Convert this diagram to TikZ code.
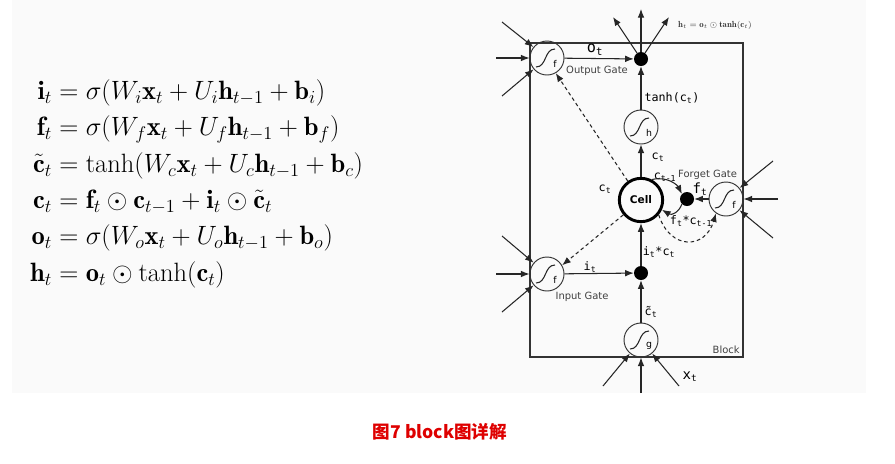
\documentclass[tikz,border=0pt]{standalone}
\usepackage{amsmath}
\usepackage{graphicx}
\usepackage{fontspec}
\setsansfont{DejaVu Sans}
\setmonofont{DejaVu Sans Mono}
\newfontfamily\cjk{Noto Sans CJK SC}
\usepackage{tikz}
\usetikzlibrary{positioning,calc,arrows.meta}
\definecolor{pagegray}{RGB}{250,250,250}
\definecolor{capred}{RGB}{222,0,0}

\begin{document}
\begin{tikzpicture}[
    x=0.03cm, y=-0.03cm,
    gate/.style={circle, draw=black!80, line width=0.8pt, minimum size=1.02cm, inner sep=0pt},
    dot/.style={circle, fill=black, minimum size=0.42cm, inner sep=0pt},
    cellnode/.style={circle, draw, line width=2.5pt, minimum size=1.3cm, inner sep=0pt, font=\sffamily\bfseries\fontsize{9}{10}\selectfont},
    arrow/.style={-{Latex[length=2.6mm,width=2mm]}, line width=0.9pt, draw=black!85},
    peep/.style={arrow, dash pattern=on 3pt off 2.5pt},
    lbl/.style={font=\ttfamily\fontsize{10}{11}\selectfont, inner sep=1pt},
    gatename/.style={font=\sffamily\fontsize{8.5}{9}\selectfont, text=black!75, inner sep=1pt}
]
\useasboundingbox (0,0) rectangle (895,463);
\fill[pagegray] (12,0) rectangle (866,393);

% equations
\node[anchor=west, font=\huge] (eqs) at (26,184) {%
  \setlength{\jot}{3.5pt}%
  \scalebox{1.09}{$\begin{aligned}
  \mathbf{i}_t &= \sigma(W_i\mathbf{x}_t + U_i\mathbf{h}_{t-1} + \mathbf{b}_i)\\
  \mathbf{f}_t &= \sigma(W_f\mathbf{x}_t + U_f\mathbf{h}_{t-1} + \mathbf{b}_f)\\
  \tilde{\mathbf{c}}_t &= \tanh(W_c\mathbf{x}_t + U_c\mathbf{h}_{t-1} + \mathbf{b}_c)\\
  \mathbf{c}_t &= \mathbf{f}_t\odot\mathbf{c}_{t-1} + \mathbf{i}_t\odot\tilde{\mathbf{c}}_t\\
  \mathbf{o}_t &= \sigma(W_o\mathbf{x}_t + U_o\mathbf{h}_{t-1} + \mathbf{b}_o)\\
  \mathbf{h}_t &= \mathbf{o}_t\odot\tanh(\mathbf{c}_t)
  \end{aligned}$}};

% block
\draw[line width=1.2pt, black!80] (530,43) rectangle (743,357);
\node[gatename, anchor=south east] (blk) at (741,355) {Block};

\node[gate] (og) at (547,58) {};
\node[gate] (hg) at (641,127) {};
\node[gate] (fg) at (726,199) {};
\node[gate] (ig) at (547,274) {};
\node[gate] (gg) at (641,340) {};
\node[cellnode] (cell) at (641,200) {Cell};
\node[dot] (odot) at (641,59) {};
\node[dot] (fdot) at (687,199) {};
\node[dot] (idot) at (641,273) {};

\foreach \g/\l in {og/f, hg/h, fg/f, ig/f, gg/g} {
  \draw[line width=0.9pt, black!85, shift={(\g.center)}] (-11,9) .. controls (0,9) and (-3,-9) .. (8,-9);
  \node[font=\sffamily\fontsize{8}{9}\selectfont, inner sep=0pt] (\g-l) at ($(\g.center)+(8,6)$) {\l};
}

% labels
\node[lbl, font=\ttfamily\fontsize{13}{14}\selectfont] (olbl) at (595,50) {o\textsubscript{t}};
\node[gatename] (ogname) at (597,71) {Output Gate};
\node[font=\fontsize{7.5}{8}\selectfont, text=black!80] (hform) at (715,25) {$\mathbf{h}_t = \mathbf{o}_t\odot\mathbf{tanh}(\mathbf{c}_t)$};
\node[lbl] (tlbl) at (672,98) {tanh(c\textsubscript{t})};
\node[lbl] (ctop) at (658,157) {c\textsubscript{t}};
\node[lbl] (cleft) at (605,189) {c\textsubscript{t}};
\node[lbl, inner sep=0pt] (cprev) at (665,177) {c\textsubscript{t-1}};
\node[gatename, anchor=west, inner sep=0pt] (fgname) at (678,175) {Forget Gate};
\node[lbl, font=\ttfamily\fontsize{12}{13}\selectfont] (flbl) at (700,189) {f\textsubscript{t}};
\node[lbl] (fclbl) at (691,221) {f\textsubscript{t}*c\textsubscript{t-1}};
\node[lbl] (iclbl) at (659,252) {i\textsubscript{t}*c\textsubscript{t}};
\node[lbl] (ilbl) at (590,267) {i\textsubscript{t}};
\node[gatename] (igname) at (582,297) {Input Gate};
\node[lbl] (gclbl) at (651,312) {\~{c}\textsubscript{t}};
\node[lbl, font=\ttfamily\fontsize{12}{13}\selectfont] (xlbl) at (690,377) {x\textsubscript{t}};

% free ends
\coordinate (o1) at (502,22);
\coordinate (o2) at (496,58);
\coordinate (o3) at (502,96);
\coordinate (f1) at (773,161);
\coordinate (f2) at (778,199);
\coordinate (f3) at (773,238);
\coordinate (i1) at (502,236);
\coordinate (i2) at (496,274);
\coordinate (i3) at (502,312);
\coordinate (g1) at (603,386);
\coordinate (g2) at (641,393);
\coordinate (g3) at (679,386);
\coordinate (h1) at (613,17);
\coordinate (h2) at (641,9);
\coordinate (h3) at (669,17);

\foreach \c in {o1,o2,o3} \draw[arrow] (\c) -- (og);
\foreach \c in {f1,f2,f3} \draw[arrow] (\c) -- (fg);
\foreach \c in {i1,i2,i3} \draw[arrow] (\c) -- (ig);
\foreach \c in {g1,g2,g3} \draw[arrow] (\c) -- (gg);
\foreach \c in {h1,h2,h3} \draw[arrow] (odot) -- (\c);

\draw[arrow] (og) -- (odot);
\draw[arrow] (hg) -- (odot);
\draw[arrow] (cell) -- (hg);
\draw[arrow] (idot) -- (cell);
\draw[arrow] (gg) -- (idot);
\draw[arrow] (ig) -- (idot);
\draw[arrow] (fg) -- (fdot);

\draw[arrow] (cell.62) .. controls ($(cell.62)+(16,-4)$) and ($(fdot.135)+(-4,-8)$) .. (fdot.135);
\draw[arrow] (fdot.225) .. controls ($(fdot.225)+(-3,8)$) and ($(cell.-25)+(10,6)$) .. (cell.-25);

\draw[peep] (cell.-40) .. controls (670,250) and (705,250) .. (fg.235);
\draw[peep] (cell.125) -- (og.-60);
\draw[peep] (cell.220) -- (ig.30);

% caption
\node[font=\cjk\bfseries\fontsize{15}{17}\selectfont, text=capred] (cap) at (440,432) {图7 block图详解};
\end{tikzpicture}
\end{document}
